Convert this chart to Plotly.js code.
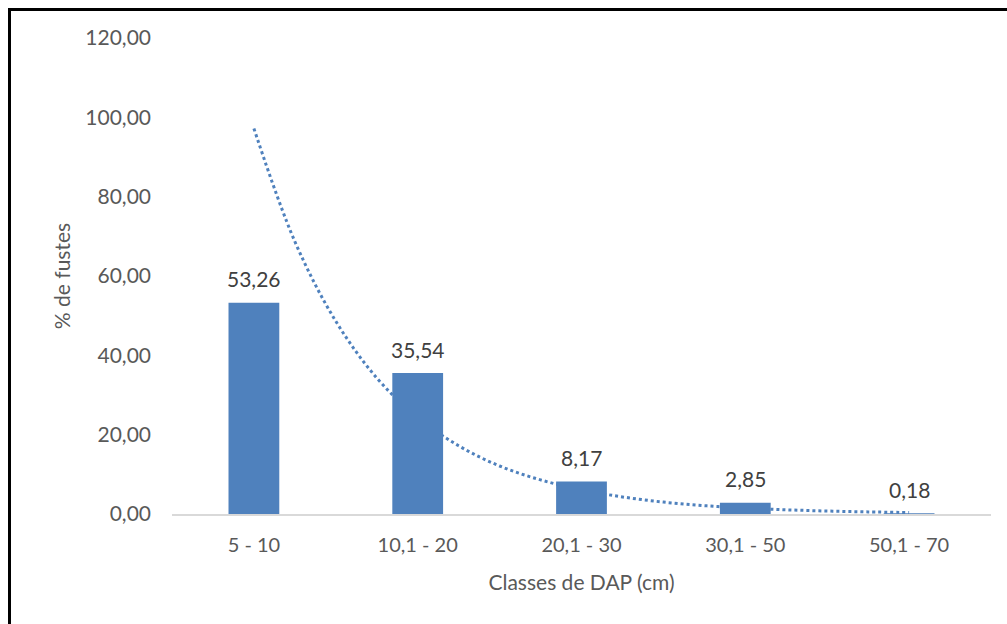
<!DOCTYPE html>
<html>
<head>
<meta charset="utf-8">
<script src="https://cdn.plot.ly/plotly-3.0.1.min.js"></script>
<style>
  html, body { margin: 0; padding: 0; background: #fff; }
  #chart { position: absolute; left: 0; top: 0; width: 1007px; height: 624px; }
  #frame { position: absolute; left: 8px; top: 8px; width: 1100px; height: 700px;
           border: 3px solid #000; pointer-events: none; box-sizing: border-box; }
</style>
</head>
<body>
<div id="chart"></div>
<div id="frame"></div>
<script>
// ---- data ----
const categories = ['5 - 10', '10,1 - 20', '20,1 - 30', '30,1 - 50', '50,1 - 70'];
const values = [53.26, 35.54, 8.17, 2.85, 0.18];
// dotted trend curve (position in category units, value in %)
const trendX = [0, 0.25, 0.5, 0.75, 1, 1.25, 1.5, 1.75, 2, 2.25, 2.5, 2.75, 3, 3.25, 3.5, 3.75, 4];
const trendY = [97.2, 68.7, 48.6, 34.3, 24.3, 17.2, 12.1, 8.6, 6.1, 4.3, 3.0, 2.1, 1.5, 1.06, 0.75, 0.53, 0.37];
const yTickVals = [0, 20, 40, 60, 80, 100, 120];

const FONT = 'Lato, "Liberation Sans", sans-serif';
const BLUE = '#4f81bd';

const trend = {
  type: 'scatter', mode: 'lines', x: trendX, y: trendY,
  xaxis: 'x', yaxis: 'y',
  line: { color: BLUE, width: 3, dash: 'dot', shape: 'spline' },
  hoverinfo: 'skip', showlegend: false
};
const bars = {
  type: 'bar', x: categories, y: values,
  xaxis: 'x2', yaxis: 'y2',
  marker: { color: BLUE },
  showlegend: false
};

const annotations = categories.map((c, i) => ({
  xref: 'x2', yref: 'y2', x: c, y: values[i],
  text: values[i].toFixed(2).replace('.', ','),
  showarrow: false, yanchor: 'middle', yshift: 24,
  font: { family: FONT, size: 21, color: '#404040' }
}));

const layout = {
  width: 1007, height: 624,
  margin: { l: 172, r: 16, t: 38, b: 110 },
  paper_bgcolor: '#ffffff', plot_bgcolor: '#ffffff',
  separators: ', ',
  bargap: 0.69,
  font: { family: FONT, color: '#595959', size: 20 },
  xaxis: {
    type: 'linear', range: [-0.5, 4.5], visible: false, fixedrange: true
  },
  yaxis: {
    range: [0, 120], tickvals: yTickVals, tickformat: '.2f',
    showgrid: false, zeroline: false, showline: false, ticks: '',
    ticklabelstandoff: 20,
    tickfont: { family: FONT, size: 21, color: '#595959' },
    title: { text: '% de fustes', standoff: 8, font: { family: FONT, size: 21, color: '#595959' } }
  },
  xaxis2: {
    type: 'category', overlaying: 'x', anchor: 'y2', range: [-0.5, 4.5],
    showgrid: false, zeroline: false, showline: true, linecolor: '#d9d9d9', linewidth: 2,
    ticks: '', ticklabelstandoff: 12,
    tickfont: { family: FONT, size: 20, color: '#595959' },
    title: { text: 'Classes de DAP (cm)', standoff: 20, font: { family: FONT, size: 21, color: '#595959' } }
  },
  yaxis2: {
    overlaying: 'y', range: [0, 120], visible: false, fixedrange: true
  },
  annotations: annotations
};

Plotly.newPlot('chart', [trend, bars], layout, { displayModeBar: false, staticPlot: true });
</script>
</body>
</html>
